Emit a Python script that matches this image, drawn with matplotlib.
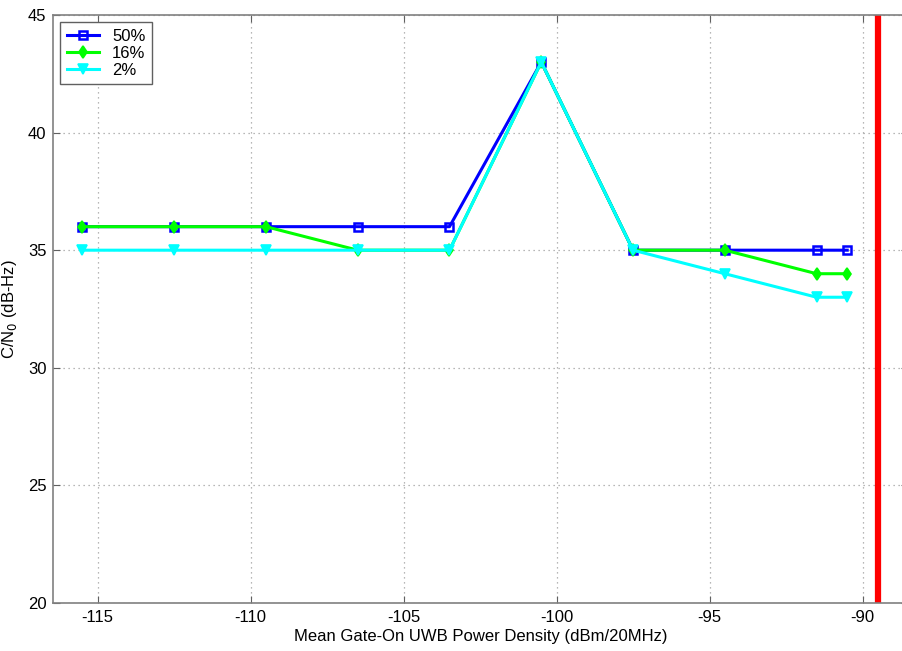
import matplotlib
matplotlib.use("Agg")
import matplotlib.pyplot as plt

plt.rcParams['font.family'] = ['Liberation Sans', 'DejaVu Sans']
plt.rcParams['axes.unicode_minus'] = False

x = [-115.5, -112.5, -109.5, -106.5, -103.5, -100.5, -97.5, -94.5, -91.5, -90.5]
s50 = [36, 36, 36, 36, 36, 43, 35, 35, 35, 35]
s16 = [36, 36, 36, 35, 35, 43, 35, 35, 34, 34]
s2 = [35, 35, 35, 35, 35, 43, 35, 34, 33, 33]
labels = ['50%', '16%', '2%']
limit_x = -89.5

fig = plt.figure(figsize=(9.02, 6.51), dpi=100)
ax = fig.add_axes([0.0591, 0.0737, 0.948, 0.9033])

ax.plot(x, s50, color='#0000ff', lw=2.2, marker='s', ms=5.5, mfc='none', mew=1.8, label=labels[0])
ax.plot(x, s16, color='#00ff00', lw=2.2, marker='d', ms=6, mfc='#00ff00', mew=1.2, label=labels[1])
ax.plot(x, s2, color='#00ffff', lw=2.2, marker='v', ms=6.5, mfc='#00ffff', mew=1.2, label=labels[2])
ax.axvline(limit_x, color='#ff0000', lw=4.5)

ax.set_xlim(-116.45, -88.5)
ax.set_ylim(20, 45)
ax.set_xticks([-115, -110, -105, -100, -95, -90])
ax.set_yticks([20, 25, 30, 35, 40, 45])
ax.grid(True, color='#a0a0a0', linestyle=(0, (1, 3)), lw=0.9)
ax.tick_params(direction='in', top=True, right=True, labelsize=12, length=5, color='#606060', pad=5)
for s in ax.spines.values():
    s.set_color('#808080')
    s.set_linewidth(1.2)

ax.set_xlabel('Mean Gate-On UWB Power Density (dBm/20MHz)', fontsize=12, labelpad=3)
ax.set_ylabel('C/N$_0$ (dB-Hz)', fontsize=12, labelpad=6)

leg = ax.legend(loc='upper left', fontsize=12, fancybox=False, edgecolor='#606060',
                framealpha=1, borderaxespad=0.42, handlelength=1.9, handletextpad=0.8,
                labelspacing=0.12, borderpad=0.4)
leg.get_frame().set_linewidth(1.0)

fig.savefig('out.png', dpi=100)
